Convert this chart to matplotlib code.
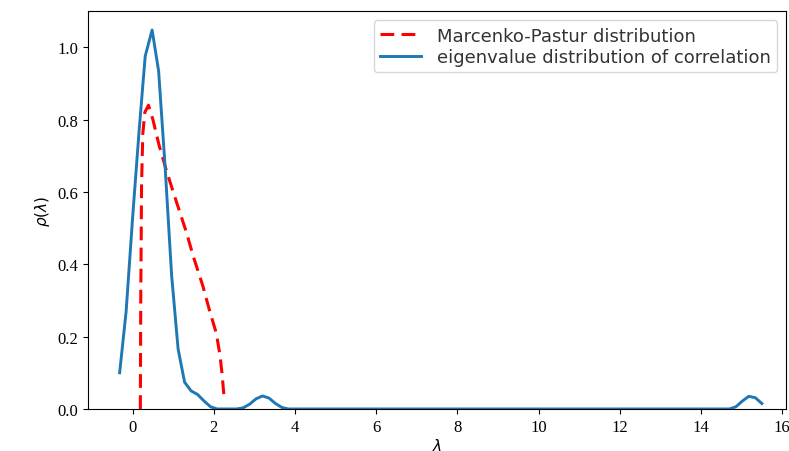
import numpy as np
import matplotlib.pyplot as plt

# eigenvalue density of the correlation matrix
lam_eig = [-0.32, -0.16, 0.0, 0.16, 0.31, 0.48, 0.64, 0.80, 0.96, 1.12, 1.28,
           1.44, 1.60, 1.76, 1.92, 2.08, 2.24, 2.40, 2.56, 2.72, 2.88, 3.04,
           3.20, 3.36, 3.52, 3.68, 3.84, 14.5, 14.7, 14.86, 15.02, 15.18,
           15.34, 15.5]
rho_eig = [0.10, 0.27, 0.53, 0.77, 0.976, 1.048, 0.935, 0.67, 0.37, 0.166,
           0.074, 0.050, 0.040, 0.022, 0.006, 0.0, 0.0, 0.0, 0.0, 0.003,
           0.013, 0.028, 0.036, 0.030, 0.015, 0.004, 0.0, 0.0, 0.0, 0.006,
           0.022, 0.035, 0.031, 0.015]

# Marcenko-Pastur curve
lam_mp = [0.19, 0.20, 0.22, 0.25, 0.30, 0.39, 0.50, 0.65, 0.83, 1.0, 1.32,
          1.50, 1.73, 1.90, 2.06, 2.15, 2.20, 2.25]
rho_mp = [0.0, 0.30, 0.62, 0.76, 0.82, 0.84, 0.80, 0.73, 0.66, 0.60, 0.49,
          0.42, 0.34, 0.27, 0.21, 0.15, 0.10, 0.036]

fig = plt.figure(figsize=(7.89, 4.52), dpi=100)
ax = fig.add_axes([0.1115, 0.093, 0.885, 0.88])

ax.plot(lam_mp, rho_mp, color='red', ls=(0, (4.5, 2.4)), lw=2.2,
        label='Marcenko-Pastur distribution')
ax.plot(lam_eig, rho_eig, color='#1f77b4', lw=2.1,
        label='eigenvalue distribution of correlation')

ax.set_xlim(-1.1, 16.1)
ax.set_ylim(0, 1.1)
ax.set_xticks(range(0, 17, 2))
ax.set_yticks([0.0, 0.2, 0.4, 0.6, 0.8, 1.0])
for t in ax.get_xticklabels() + ax.get_yticklabels():
    t.set_family('Liberation Serif')
    t.set_fontsize(12)
ax.set_xlabel(r'$\lambda$', fontsize=11, labelpad=2)
ax.set_ylabel(r'$\rho(\lambda)$', fontsize=11)
ax.legend(loc='upper right', fontsize=13, handlelength=2.25,
          handletextpad=0.9, labelspacing=0.2, borderpad=0.35,
          labelcolor='#333333')

fig.savefig('out.png', dpi=100)
